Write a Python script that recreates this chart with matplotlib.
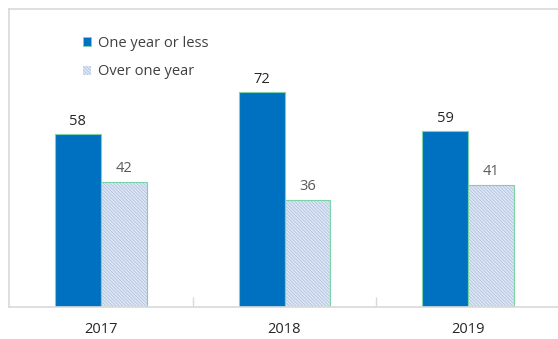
import matplotlib
matplotlib.use("Agg")
import matplotlib.pyplot as plt
from matplotlib.patches import Patch
import numpy as np

plt.rcParams['font.family'] = ['Open Sans', 'DejaVu Sans']
plt.rcParams['hatch.linewidth'] = 0.4

years = ["2017", "2018", "2019"]
one_year_or_less = [58, 72, 59]
over_one_year = [42, 36, 41]

blue = "#0070C0"
hatch_fill = "#DDE6F4"
hatch_line = "#9FB4D9"
edge_green = "#7DD3A8"
frame_grey = "#D9D9D9"
hatch_pat = "\\" * 10

fig = plt.figure(figsize=(5.58, 3.39), dpi=100)
ax = fig.add_axes([9 / 558, 32 / 339, 551 / 558, 298 / 339])

x = np.arange(len(years))
w = 0.25

# solid series
ax.bar(x - w / 2, one_year_or_less, w, color=blue, edgecolor=edge_green, linewidth=0.8)

# hatched series: fill + hatch first, then the green outline on top
ax.bar(x + w / 2, over_one_year, w, color=hatch_fill, edgecolor=hatch_line,
       hatch=hatch_pat, linewidth=0)
ax.bar(x + w / 2, over_one_year, w, color="none", edgecolor=edge_green, linewidth=0.8)

for xi, v in zip(x, one_year_or_less):
    ax.annotate(str(v), (xi - w / 2, v), xytext=(0, 4), textcoords="offset points",
                ha="center", va="bottom", fontsize=10.5, color="#262626")
for xi, v in zip(x, over_one_year):
    ax.annotate(str(v), (xi + w / 2, v), xytext=(0, 4), textcoords="offset points",
                ha="center", va="bottom", fontsize=10.5, color="#595959")

ax.set_xlim(-0.5, len(years) - 0.5)
ax.set_ylim(0, 100)
ax.set_yticks([])
ax.set_xticks(x)
ax.set_xticklabels(years, fontsize=10.5, color="#262626")
ax.tick_params(axis="x", length=0, pad=11)
ax.set_xticks([0.5, 1.5], minor=True)
ax.tick_params(axis="x", which="minor", direction="in", length=7, color=frame_grey, width=1)

for s in ax.spines.values():
    s.set_color(frame_grey)
    s.set_linewidth(1.2)

handles = [
    Patch(facecolor=blue, edgecolor=edge_green, linewidth=0.6, label="One year or less"),
    Patch(facecolor=hatch_fill, edgecolor=hatch_line, hatch=hatch_pat, linewidth=0,
          label="Over one year"),
]
ax.legend(handles=handles, loc="upper left", bbox_to_anchor=(0.11, 0.955), frameon=False,
          fontsize=10.5, labelcolor="#404040", handlelength=0.6, handleheight=0.6,
          handletextpad=0.45, labelspacing=0.95)

fig.savefig("out.png", dpi=100)
